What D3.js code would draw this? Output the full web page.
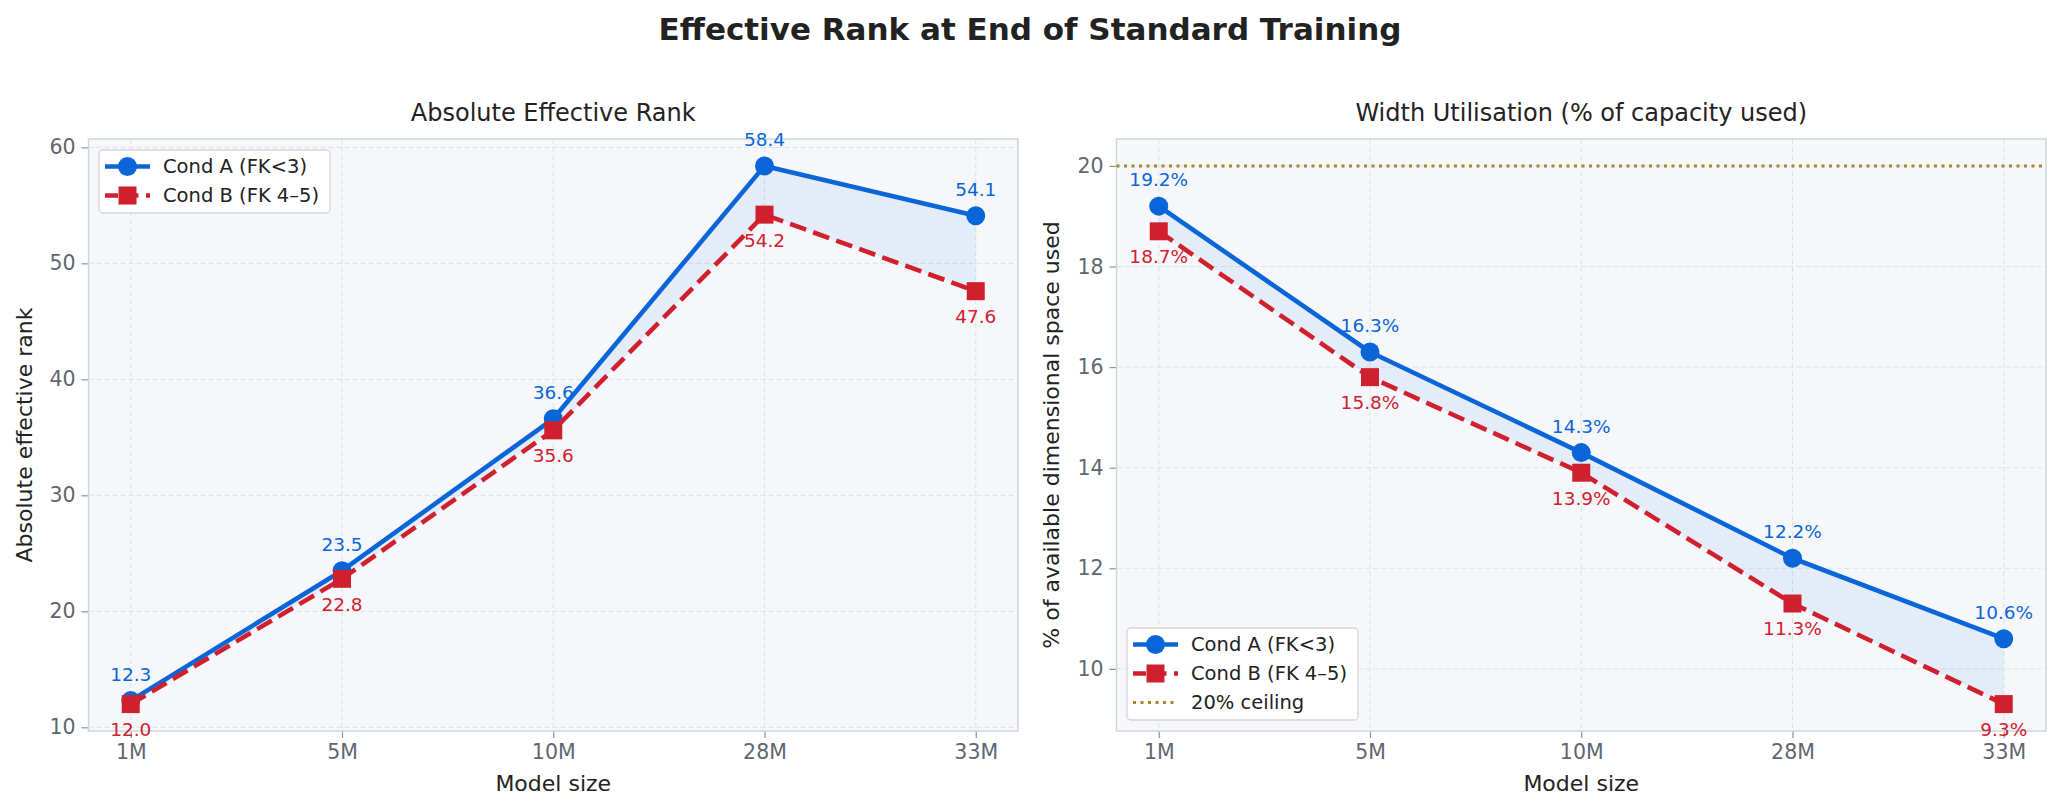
<!DOCTYPE html>
<html><head><meta charset="utf-8">
<script src="https://cdn.jsdelivr.net/npm/d3@7"></script>
<style>body{margin:0;background:#fff}svg{display:block;font-family:"DejaVu Sans",sans-serif}</style>
</head><body><svg id="c" width="2061" height="811"></svg>
<script>
const categories = ["1M","5M","10M","28M","33M"];
const rankA = [12.3, 23.5, 36.6, 58.4, 54.1];
const rankB = [12.0, 22.8, 35.6, 54.2, 47.6];
const utilA = [19.2, 16.3, 14.3, 12.2, 10.6];
const utilB = [18.7, 15.8, 13.9, 11.3, 9.3];
const rankTicks = [10, 20, 30, 40, 50, 60];
const utilTicks = [10, 12, 14, 16, 18, 20];
const ceiling = 20;
const seriesNames = ["Cond A (FK<3)", "Cond B (FK 4–5)", "20% ceiling"];

const blue = "#0a66d8", red = "#d0202e", gold = "#a8862c";
const svg = d3.select("#c");
svg.append("text").attr("x",1030).attr("y",40).attr("text-anchor","middle")
  .attr("font-size",31).attr("font-weight","bold").attr("fill","#222")
  .text("Effective Rank at End of Standard Training");

function panel(opt){
  const top=139,bottom=731;
  const x=d3.scaleLinear().domain([-0.2,4.2]).range([opt.x0,opt.x1]);
  const y=d3.scaleLinear().domain(opt.yd).range([bottom,top]);
  const g=svg.append("g");
  g.append("rect").attr("x",opt.x0).attr("y",top).attr("width",opt.x1-opt.x0).attr("height",bottom-top).attr("fill","#f5f7fa");
  // grid
  g.selectAll(".gx").data(categories).enter().append("line")
    .attr("x1",(d,i)=>x(i)).attr("x2",(d,i)=>x(i)).attr("y1",top).attr("y2",bottom)
    .attr("stroke","#dde1e6").attr("stroke-width",1).attr("stroke-dasharray","5,3");
  g.selectAll(".gy").data(opt.ticks).enter().append("line")
    .attr("x1",opt.x0).attr("x2",opt.x1).attr("y1",d=>y(d)).attr("y2",d=>y(d))
    .attr("stroke","#dde1e6").attr("stroke-width",1).attr("stroke-dasharray","5,3");
  // axes
  const xa=d3.axisBottom(x).tickValues(d3.range(categories.length)).tickFormat(i=>categories[i]).tickSize(7).tickPadding(6);
  const ya=d3.axisLeft(y).tickValues(opt.ticks).tickFormat(d3.format("d")).tickSize(7).tickPadding(6);
  const gx=g.append("g").attr("transform",`translate(0,${bottom})`).call(xa);
  const gy=g.append("g").attr("transform",`translate(${opt.x0},0)`).call(ya);
  [gx,gy].forEach(a=>{a.select(".domain").remove();
    a.selectAll(".tick line").attr("stroke","#8b9199").attr("stroke-width",1.2);
    a.selectAll(".tick text").attr("fill","#5f6670").attr("font-size",20.5).attr("font-family","DejaVu Sans");});
  // frame
  g.append("rect").attr("x",opt.x0).attr("y",top).attr("width",opt.x1-opt.x0).attr("height",bottom-top)
    .attr("fill","none").attr("stroke","#cfd5dc").attr("stroke-width",1.5);
  // labels
  g.append("text").attr("x",(opt.x0+opt.x1)/2).attr("y",121).attr("text-anchor","middle").attr("font-size",24).attr("fill","#222").text(opt.title);
  g.append("text").attr("x",(opt.x0+opt.x1)/2).attr("y",791).attr("text-anchor","middle").attr("font-size",22).attr("fill","#222").text("Model size");
  g.append("text").attr("transform",`translate(${opt.ylx},435) rotate(-90)`).attr("text-anchor","middle").attr("dominant-baseline","central").attr("font-size",22).attr("fill","#222").text(opt.ylabel);
  // ceiling
  if(opt.ceiling!=null){
    g.append("line").attr("x1",opt.x0).attr("x2",opt.x1).attr("y1",y(opt.ceiling)).attr("y2",y(opt.ceiling))
      .attr("stroke",gold).attr("stroke-width",3).attr("stroke-dasharray","3,4.5");
  }
  // fill between
  const area=d3.area().x((d,i)=>x(i)).y0((d,i)=>y(opt.b[i])).y1(d=>y(d));
  g.append("path").datum(opt.a).attr("d",area).attr("fill","#0a66d8").attr("fill-opacity",0.075);
  const line=d3.line().x((d,i)=>x(i)).y(d=>y(d));
  // series A
  g.append("path").datum(opt.a).attr("d",line).attr("fill","none").attr("stroke",blue).attr("stroke-width",4.6).attr("stroke-linejoin","round");
  g.selectAll(".ma").data(opt.a).enter().append("circle").attr("cx",(d,i)=>x(i)).attr("cy",d=>y(d)).attr("r",9.5).attr("fill",blue);
  // series B
  g.append("path").datum(opt.b).attr("d",line).attr("fill","none").attr("stroke",red).attr("stroke-width",4.6).attr("stroke-dasharray","17,7.5");
  g.selectAll(".mb").data(opt.b).enter().append("rect").attr("x",(d,i)=>x(i)-9).attr("y",d=>y(d)-9).attr("width",18).attr("height",18).attr("fill",red);
  // annotations
  g.selectAll(".la").data(opt.a).enter().append("text").attr("x",(d,i)=>x(i)).attr("y",d=>y(d)-20)
    .attr("text-anchor","middle").attr("font-size",18.5).attr("fill",blue).text(d=>d.toFixed(1)+opt.suffix);
  g.selectAll(".lb").data(opt.b).enter().append("text").attr("x",(d,i)=>x(i)).attr("y",d=>y(d)+32)
    .attr("text-anchor","middle").attr("font-size",18.5).attr("fill",red).text(d=>d.toFixed(1)+opt.suffix);
  // legend
  const L=opt.legend;
  const lg=g.append("g");
  lg.append("rect").attr("x",L.x).attr("y",L.y).attr("width",L.w).attr("height",L.h).attr("rx",4)
    .attr("fill","#fff").attr("fill-opacity",0.92).attr("stroke","#d4d4d4").attr("stroke-width",1.3);
  const rows=L.n;
  for(let r=0;r<rows;r++){
    const cy=L.y+16.5+r*29, hx0=L.x+6, hx1=L.x+51, mx=(hx0+hx1)/2;
    if(r===0){
      lg.append("line").attr("x1",hx0).attr("x2",hx1).attr("y1",cy).attr("y2",cy).attr("stroke",blue).attr("stroke-width",4.6);
      lg.append("circle").attr("cx",mx).attr("cy",cy).attr("r",9.5).attr("fill",blue);
    } else if(r===1){
      lg.append("line").attr("x1",hx0).attr("x2",hx1).attr("y1",cy).attr("y2",cy).attr("stroke",red).attr("stroke-width",4.6).attr("stroke-dasharray","13,7.5");
      lg.append("rect").attr("x",mx-9).attr("y",cy-9).attr("width",18).attr("height",18).attr("fill",red);
    } else {
      lg.append("line").attr("x1",hx0).attr("x2",hx1).attr("y1",cy).attr("y2",cy).attr("stroke",gold).attr("stroke-width",3).attr("stroke-dasharray","3,4.5");
    }
    lg.append("text").attr("x",L.x+64).attr("y",cy).attr("dominant-baseline","central").attr("font-size",19.5).attr("fill","#222").text(seriesNames[r]);
  }
}

panel({x0:88.5,x1:1018,yd:[9.68,60.72],ticks:rankTicks,a:rankA,b:rankB,suffix:"",
  title:"Absolute Effective Rank",ylabel:"Absolute effective rank",ylx:24,ceiling:null,
  legend:{x:99,y:150,w:231,h:63,n:2}});
panel({x0:1116.5,x1:2046,yd:[8.765,20.535],ticks:utilTicks,a:utilA,b:utilB,suffix:"%",
  title:"Width Utilisation (% of capacity used)",ylabel:"% of available dimensional space used",ylx:1051,ceiling:ceiling,
  legend:{x:1127,y:628,w:231,h:92,n:3}});
</script></body></html>
